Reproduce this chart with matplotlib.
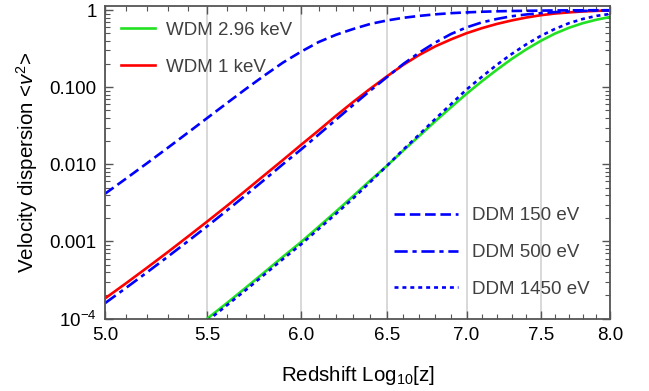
import numpy as np
import matplotlib
matplotlib.use("Agg")
import matplotlib.pyplot as plt
from matplotlib.ticker import FixedLocator, FormatStrFormatter, NullFormatter, LogLocator

plt.rcParams['font.family'] = ['Liberation Sans', 'DejaVu Sans']
plt.rcParams['mathtext.fontset'] = 'custom'
plt.rcParams['mathtext.rm'] = 'Liberation Sans'
plt.rcParams['mathtext.it'] = 'Liberation Sans:italic'

# redshift grid, Log10[z]
log_z = [5.0, 5.1, 5.2, 5.3, 5.4, 5.5, 5.6, 5.7, 5.8, 5.9, 6.0,
         6.1, 6.2, 6.3, 6.4, 6.5, 6.6, 6.7, 6.8, 6.9, 7.0,
         7.1, 7.2, 7.3, 7.4, 7.5, 7.6, 7.7, 7.8, 7.9, 8.0]
log_z_heavy = log_z[5:]   # heavier species only enter the window at 5.5

# velocity dispersion <v^2>
wdm_1kev = [1.82e-4, 2.88e-4, 4.57e-4, 7.24e-4, 1.15e-3, 1.82e-3, 2.88e-3, 4.57e-3, 7.24e-3, 0.01135, 0.0178,
            0.0275, 0.0427, 0.0646, 0.0955, 0.138, 0.195, 0.263, 0.339, 0.417, 0.501,
            0.582, 0.661, 0.733, 0.800, 0.857, 0.902, 0.933, 0.959, 0.977, 0.989]
wdm_296kev = [1.00e-4, 1.58e-4, 2.51e-4, 3.98e-4, 6.31e-4, 9.77e-4,
              1.55e-3, 2.45e-3, 3.89e-3, 6.17e-3, 9.55e-3, 0.0151, 0.0234, 0.0363, 0.0550, 0.0822,
              0.119, 0.168, 0.232, 0.309, 0.398, 0.495, 0.589, 0.676, 0.750, 0.813]
ddm_150ev = [4.15e-3, 6.56e-3, 0.01035, 0.0163, 0.0256, 0.0400, 0.0619, 0.0948, 0.142, 0.208, 0.288,
             0.385, 0.479, 0.569, 0.661, 0.733, 0.794, 0.841, 0.881, 0.912, 0.933,
             0.951, 0.964, 0.973, 0.979, 0.984, 0.989, 0.991, 0.993, 0.995, 0.995]
ddm_500ev = [1.58e-4, 2.51e-4, 3.98e-4, 6.31e-4, 1.00e-3, 1.58e-3, 2.51e-3, 3.98e-3, 6.31e-3, 0.0100, 0.0155,
             0.0243, 0.0380, 0.0589, 0.0902, 0.135, 0.200, 0.282, 0.380, 0.490, 0.596,
             0.692, 0.767, 0.832, 0.877, 0.912, 0.940, 0.959, 0.975, 0.986, 0.993]
ddm_1450ev = [9.33e-5, 1.48e-4, 2.34e-4, 3.72e-4, 5.89e-4, 9.12e-4,
              1.45e-3, 2.29e-3, 3.63e-3, 5.89e-3, 9.55e-3, 0.0155, 0.0245, 0.0389, 0.0603, 0.0933,
              0.136, 0.195, 0.269, 0.359, 0.462, 0.569, 0.676, 0.767, 0.841, 0.891]

x_major = [5.0, 5.5, 6.0, 6.5, 7.0, 7.5, 8.0]
y_major = [1e-4, 1e-3, 1e-2, 1e-1, 1.0]
y_labels = [r'$10^{-4}$', '0.001', '0.010', '0.100', '1']

fig = plt.figure(figsize=(6.49, 3.91), dpi=100)
ax = fig.add_axes([0.1618, 0.1854, 0.9399 - 0.1618, 0.9847 - 0.1854])

lw = 1.9
green = '#22e022'
l_g, = ax.plot(log_z_heavy, wdm_296kev, color=green, lw=lw, label='WDM 2.96 keV')
l_r, = ax.plot(log_z, wdm_1kev, color='red', lw=lw, label='WDM 1 keV')
l_d1, = ax.plot(log_z, ddm_150ev, color='blue', lw=lw, dashes=(4.0, 1.8), label='DDM 150 eV')
l_d2, = ax.plot(log_z, ddm_500ev, color='blue', lw=lw, dashes=(5, 1.8, 1.6, 1.8), label='DDM 500 eV')
l_d3, = ax.plot(log_z_heavy, ddm_1450ev, color='blue', lw=lw, dashes=(1.5, 1.5), label='DDM 1450 eV')

ax.set_xscale('log')
ax.set_yscale('log')
ax.set_xlim(5.0, 8.0)
ax.set_ylim(1e-4, 1.13)

# x axis: fixed ticks on a log-scaled Log10[z]
ax.xaxis.set_major_locator(FixedLocator(x_major))
ax.xaxis.set_major_formatter(FormatStrFormatter('%.1f'))
ax.xaxis.set_minor_locator(FixedLocator(np.arange(5.0, 8.01, 0.1)))
ax.xaxis.set_minor_formatter(NullFormatter())

ax.yaxis.set_major_locator(FixedLocator(y_major))
ax.set_yticklabels(y_labels)
ax.yaxis.set_minor_locator(LogLocator(base=10, subs=np.arange(2, 10)))
ax.yaxis.set_minor_formatter(NullFormatter())

frame_col = '#555555'
for spine in ax.spines.values():
    spine.set_color(frame_col)
    spine.set_linewidth(1.3)
ax.tick_params(which='both', direction='in', top=True, right=True, color=frame_col,
               labelsize=13.5, labelcolor='black')
ax.tick_params(which='major', length=6, width=1.0, pad=6)
ax.tick_params(which='minor', length=3.5, width=0.8)

ax.grid(axis='x', which='major', color='#d6d6d6', lw=1.3)
ax.set_axisbelow(True)

ax.set_xlabel(r'Redshift Log$_{10}$[z]', fontsize=14.8)
ax.set_ylabel(r'Velocity dispersion <$v^2$>', fontsize=14.8)
ax.xaxis.set_label_coords(0.5, -0.145)
ax.yaxis.set_label_coords(-0.128, 0.5)

leg1 = ax.legend(handles=[l_g, l_r], loc='upper left', bbox_to_anchor=(0.0, 1.0),
                 frameon=False, fontsize=13.5, handlelength=1.8, labelspacing=1.05,
                 handletextpad=0.6, borderaxespad=0.45, labelcolor='#404040')
ax.add_artist(leg1)
ax.legend(handles=[l_d1, l_d2, l_d3], loc='lower right', bbox_to_anchor=(1.0, 0.0),
          frameon=False, fontsize=13.5, handlelength=3.4, labelspacing=1.05,
          handletextpad=0.75, borderaxespad=0.7, labelcolor='#404040')

fig.savefig('out.png', dpi=100)
